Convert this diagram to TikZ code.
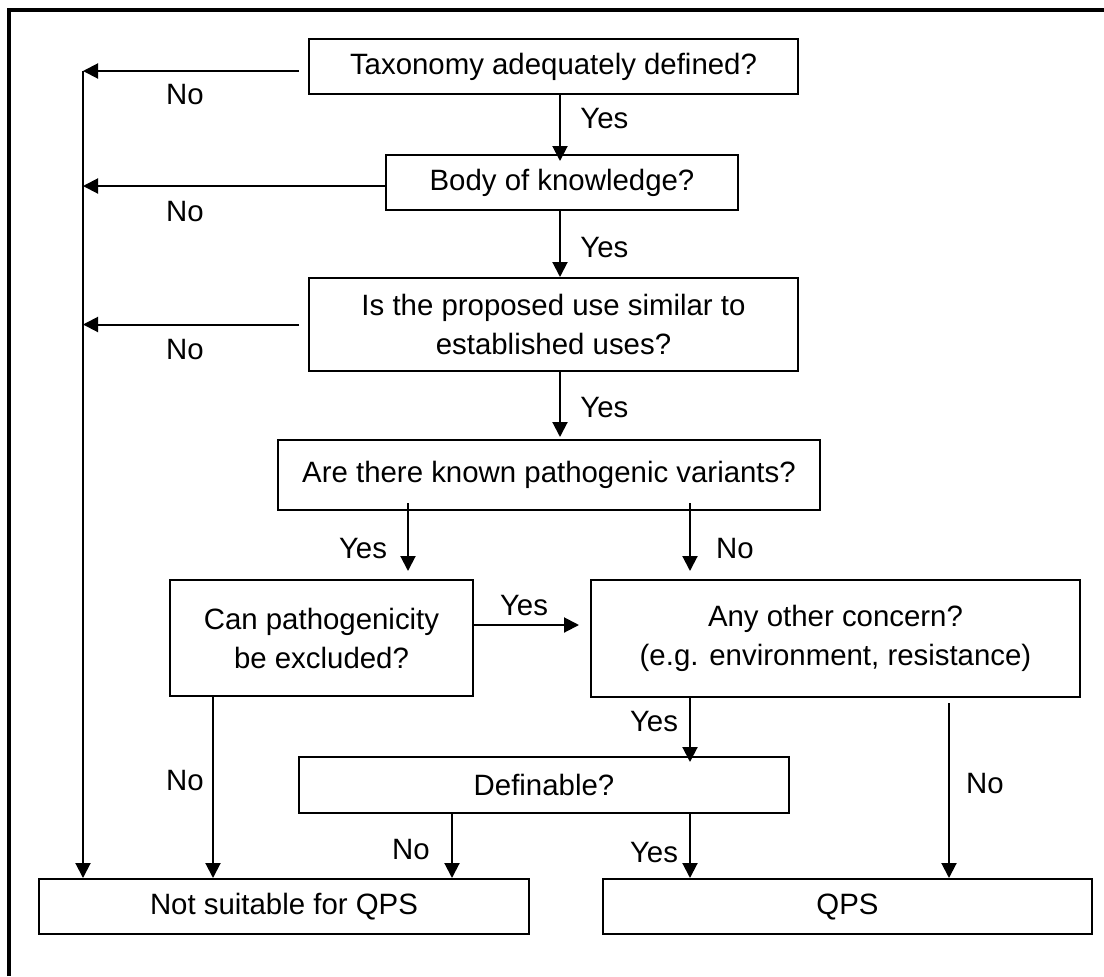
\documentclass[tikz,border=0pt]{standalone}
\usepackage{fontspec}
\setmainfont{Liberation Sans}
\usetikzlibrary{arrows.meta}

\tikzset{
    box/.style={draw, line width=1pt, align=center, inner sep=0pt},
    arr/.style={-{Triangle[width=7.5pt,length=7.5pt]}, line width=1pt},
    lbl/.style={inner sep=0pt}
}

\begin{document}
\begin{tikzpicture}[x=0.5pt, y=-0.5pt, font=\fontsize{14.7}{19.5}\selectfont]
    \useasboundingbox (0,0) rectangle (1104,976);

    % --- frame (open at right and bottom) ---
    \draw[line width=2pt] (9,976) -- (9,9.5) -- (1104,9.5);

    % --- question boxes ---
    \node[box, minimum width=244.5pt, minimum height=27.5pt] (tax) at (553.5,66.5) {Taxonomy adequately defined?};
    \node[box, minimum width=176pt, minimum height=27.5pt] (body) at (562,182.5) {Body of knowledge?};
    \node[box, minimum width=244.5pt, minimum height=46.5pt] (prop) at (553.5,324.5) {Is the proposed use similar to\\established uses?};
    \node[box, minimum width=271pt, minimum height=35pt] (known) at (549,475) {Are there known pathogenic variants?};
    \node[box, minimum width=151.5pt, minimum height=58pt] (can) at (321.5,638) {Can pathogenicity\\be excluded?};
    \node[box, minimum width=244.5pt, minimum height=58.5pt] (any) at (835.5,638.5) {Any other concern?\\(e.g. environment, resistance)};
    \node[box, minimum width=245pt, minimum height=28pt] (defin) at (544,785) {Definable?};

    % --- outcomes ---
    \node[box, minimum width=245pt, minimum height=27.5pt] (notq) at (284,906.5) {Not suitable for QPS};
    \node[box, minimum width=244.5pt, minimum height=27.5pt] (qps) at (847.5,906.5) {QPS};

    % columns of the vertical connectors
    \coordinate (spine) at (83,71);
    \coordinate (cmid) at (560,0);
    \coordinate (cyes) at (408,0);
    \coordinate (cno) at (690,0);
    \coordinate (ccan) at (213,0);
    \coordinate (cdef) at (452,0);
    \coordinate (cqps) at (949,0);

    % --- No branches to the left ---
    \draw[arr, shorten <=4.5pt] ([yshift=-2.25pt]tax.west) -- ([yshift=-2.25pt]tax.west -| spine);
    \draw[arr] ([yshift=-1.75pt]body.west) -- ([yshift=-1.75pt]body.west -| spine);
    \draw[arr, shorten <=4.5pt] (prop.west) -- (prop.west -| spine);
    \draw[arr] (spine) -- (spine |- notq.north);
    \node[lbl] (no1) at (185,95) {No};
    \node[lbl] (no2) at (185,212) {No};
    \node[lbl] (no3) at (185,350) {No};

    % --- Yes chain down the middle ---
    \draw[arr, shorten >=-3.5pt] (tax.south -| cmid) -- (body.north -| cmid);
    \draw[arr] (body.south -| cmid) -- (prop.north -| cmid);
    \draw[arr, shorten >=1pt] (prop.south -| cmid) -- (known.north -| cmid);
    \node[lbl, anchor=west] (yes1) at (580,119) {Yes};
    \node[lbl, anchor=west] (yes2) at (580,248) {Yes};
    \node[lbl, anchor=west] (yes3) at (580,408) {Yes};

    % --- pathogenic variants ---
    \draw[arr, shorten <=-4pt, shorten >=4pt] (known.south -| cyes) -- (can.north -| cyes);
    \node[lbl] (yes4) at (363,549) {Yes};
    \draw[arr, shorten <=-4pt, shorten >=4pt] (known.south -| cno) -- (any.north -| cno);
    \node[lbl] (no4) at (735,549) {No};

    \draw[arr, shorten >=5.5pt] ([yshift=6.5pt]can.east) -- ([yshift=6.5pt]can.east -| any.west);
    \node[lbl] (yes5) at (524,606) {Yes};
    \draw[arr] (can.south -| ccan) -- (notq.north -| ccan);
    \node[lbl] (no5) at (185,781) {No};

    % --- other concerns ---
    \draw[arr, shorten >=-3pt] (any.south -| cno) -- (defin.north -| cno);
    \node[lbl] (yes6) at (654,722) {Yes};
    \draw[arr, shorten <=2.5pt] (any.south -| cqps) -- (qps.north -| cqps);
    \node[lbl] (no6) at (985,784) {No};

    % --- definable ---
    \draw[arr] (defin.south -| cdef) -- (notq.north -| cdef);
    \node[lbl] (no7) at (411,850) {No};
    \draw[arr] (defin.south -| cno) -- (qps.north -| cno);
    \node[lbl] (yes7) at (654,853) {Yes};

\end{tikzpicture}
\end{document}
